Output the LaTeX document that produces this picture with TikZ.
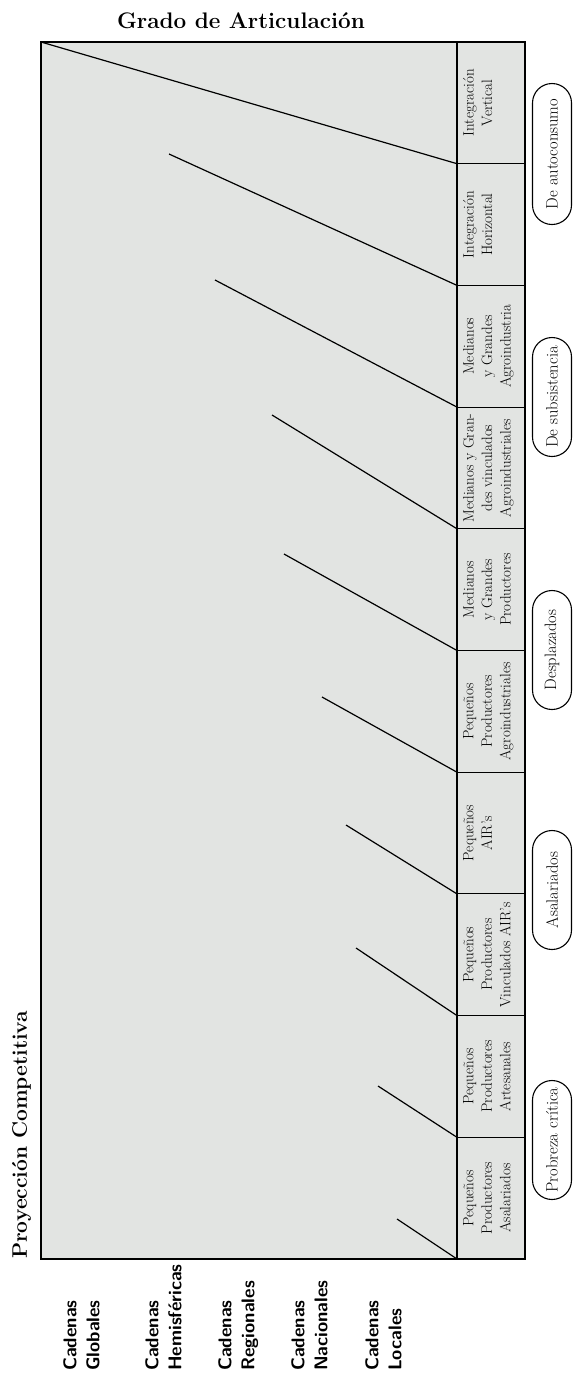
\documentclass[tikz,border=0pt]{standalone}
\usetikzlibrary{positioning,shapes.misc}
\definecolor{papel}{RGB}{226,228,226}

\begin{document}
\begin{tikzpicture}[x=1pt,y=-1pt,
  marco/.style={draw,line width=1.3pt,fill=papel,minimum width=484pt,minimum height=1217pt,inner sep=0pt,outer sep=0pt},
  celda/.style={draw,line width=1.1pt,fill=papel,minimum width=68pt,minimum height=121.7pt,inner sep=0pt,outer sep=0pt},
  texto/.style={rotate=90,anchor=north,align=center,inner sep=0pt,font=\fontsize{15}{18.5}\selectfont},
  tramo/.style={line width=1.2pt},
  ovalo/.style={draw,line width=1.1pt,rounded rectangle,rotate=90,minimum height=39pt,minimum width=143pt,inner xsep=12pt,font=\fontsize{16.5}{20}\selectfont},
  cadena/.style={rotate=90,anchor=north west,align=left,inner sep=0pt,font=\sffamily\bfseries\fontsize{18.5}{23}\selectfont},
  titulo/.style={inner sep=0pt,font=\bfseries\fontsize{22.5}{26}\selectfont}]
  \useasboundingbox (0,0) rectangle (578,1382);

  \node[titulo,anchor=base] (grado) at (241,28) {Grado de Articulación};
  \node[titulo,rotate=90,anchor=base west,font=\bfseries\fontsize{21}{25}\selectfont] (proy) at (27,1259) {Proyección Competitiva};

  \node[marco] (marco) at (283,650.5) {};

  % columna de la derecha
  \node[celda] (intv) at (491,102.85) {};
  \node[celda] (inth) [below=0pt of intv] {};
  \node[celda] (mga) [below=0pt of inth] {};
  \node[celda] (mgv) [below=0pt of mga] {};
  \node[celda] (mgp) [below=0pt of mgv] {};
  \node[celda] (ppa) [below=0pt of mgp] {};
  \node[celda] (pair) [below=0pt of ppa] {};
  \node[celda] (ppv) [below=0pt of pair] {};
  \node[celda] (ppar) [below=0pt of ppv] {};
  \node[celda] (ppas) [below=0pt of ppar] {};

  \node[texto] (tintv) at ([xshift=6pt]intv.west) {Integración\\Vertical};
  \node[texto] (tinth) at ([xshift=6pt]inth.west) {Integración\\Horizontal};
  \node[texto] (tmga) at ([xshift=6pt]mga.west) {Medianos\\y Grandes\\Agroindustria};
  \node[texto] (tmgv) at ([xshift=6pt]mgv.west) {Medianos y Gran-\\des vinculados\\Agroindustriales};
  \node[texto] (tmgp) at ([xshift=6pt]mgp.west) {Medianos\\y Grandes\\Productores};
  \node[texto] (tppa) at ([xshift=6pt]ppa.west) {Pequeños\\Productores\\Agroindustriales};
  \node[texto] (tpair) at ([xshift=6pt]pair.west) {Pequeños\\AIR’s};
  \node[texto] (tppv) at ([xshift=6pt]ppv.west) {Pequeños\\Productores\\Vinculados AIR’s};
  \node[texto] (tppar) at ([xshift=6pt]ppar.west) {Pequeños\\Productores\\Artesanales};
  \node[texto] (tppas) at ([xshift=6pt]ppas.west) {Pequeños\\Productores\\Asalariados};

  % inicio de los tramos
  \coordinate (a2) at (169,154);
  \coordinate (a3) at (215,280);
  \coordinate (a4) at (272,415);
  \coordinate (a5) at (284,554);
  \coordinate (a6) at (322,697);
  \coordinate (a7) at (346,825);
  \coordinate (a8) at (356,948);
  \coordinate (a9) at (378,1086);
  \coordinate (a10) at (397,1219);

  \draw[tramo] (marco.north west) -- (intv.south west);
  \draw[tramo] (a2) -- (inth.south west);
  \draw[tramo] (a3) -- (mga.south west);
  \draw[tramo] (a4) -- (mgv.south west);
  \draw[tramo] (a5) -- (mgp.south west);
  \draw[tramo] (a6) -- (ppa.south west);
  \draw[tramo] (a7) -- (pair.south west);
  \draw[tramo] (a8) -- (ppv.south west);
  \draw[tramo] (a9) -- (ppar.south west);
  \draw[tramo] (a10) -- (ppas.south west);

  % ovalos
  \node[ovalo,minimum width=165pt] (auto) at (552,154) {De autoconsumo};
  \node[ovalo] (subs) at (552,397) {De subsistencia};
  \node[ovalo] (despl) at (552,650) {Desplazados};
  \node[ovalo] (asal) at (552,890) {Asalariados};
  \node[ovalo] (pobre) at (552,1140) {Probreza crítica};

  % cadenas
  \node[cadena] (glob) at (63,1371) {Cadenas\\Globales};
  \node[cadena] (hemi) at (145,1371) {Cadenas\\Hemisféricas};
  \node[cadena] (reg) at (218,1371) {Cadenas\\Regionales};
  \node[cadena] (nac) at (291,1371) {Cadenas\\Nacionales};
  \node[cadena] (loc) at (365,1371) {Cadenas\\Locales};
\end{tikzpicture}
\end{document}
